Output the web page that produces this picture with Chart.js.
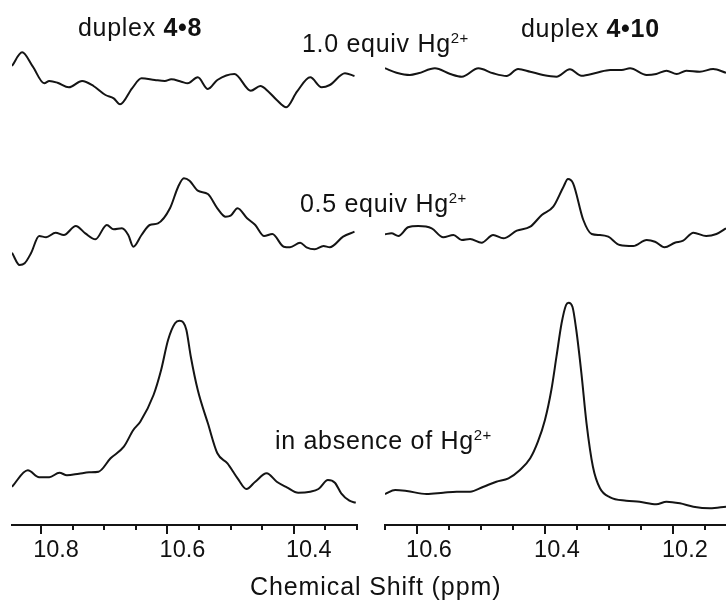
<!DOCTYPE html>
<html>
<head>
<meta charset="utf-8">
<script src="https://cdn.jsdelivr.net/npm/chart.js@4.4.1/dist/chart.umd.min.js"></script>
<style>
  html, body { margin: 0; padding: 0; background: #fff; }
  #wrap { position: relative; width: 726px; height: 603px; overflow: hidden; background: #fff; }
  canvas { position: absolute; top: 0; }
  #cL { left: 0; }
  #cR { left: 363px; }
  .lbl { position: absolute; font-family: "Liberation Sans", Arial, sans-serif; font-size: 25px;
         line-height: 26px; color: #111; white-space: nowrap; letter-spacing: 0.7px; pointer-events: none; }
  .lbl b { font-weight: bold; }
  .sup { position: relative; top: -9px; font-size: 15px; letter-spacing: 0.3px; }
</style>
</head>
<body>
<div id="wrap">
  <canvas id="cL" width="363" height="603"></canvas>
  <canvas id="cR" width="363" height="603"></canvas>
  <div class="lbl" style="left:78px; top:14px;">duplex <b>4•8</b></div>
  <div class="lbl" style="left:521px; top:15px;">duplex <b>4•10</b></div>
  <div class="lbl" style="left:302px; top:30px;">1.0 equiv Hg<span class="sup">2+</span></div>
  <div class="lbl" style="left:300px; top:190px;">0.5 equiv Hg<span class="sup">2+</span></div>
  <div class="lbl" style="left:275px; top:427px;">in absence of Hg<span class="sup">2+</span></div>
  <div class="lbl" style="left:250px; top:573px; letter-spacing:0.9px;">Chemical Shift (ppm)</div>
</div>
<script>
// ---------------- data (chemical shift in ppm, intensity in arbitrary units) ----------------
// duplex 4•8
const ppm48_eq10 = [10.846,10.830,10.813,10.795,10.787,10.774,10.756,10.735,10.717,10.698,10.685,10.675,10.656,10.641,10.620,10.604,10.594,10.578,10.568,10.552,10.536,10.521,10.494,10.468,10.453,10.440,10.427,10.412,10.395,10.374,10.356,10.343,10.319,10.304];
const int48_eq10 = [74,87.7,73.3,56.7,59,57.3,52.7,59,54,45,41.7,35.7,51.7,61.7,60,59,60.7,58.3,56.7,62.7,51,60,66,49.3,54,48.3,40,32.7,48.3,62.7,52.7,55,66.7,64];

const ppm48_eq05 = [10.846,10.834,10.826,10.816,10.803,10.792,10.777,10.764,10.745,10.730,10.714,10.696,10.685,10.672,10.662,10.654,10.641,10.628,10.615,10.596,10.583,10.574,10.565,10.552,10.536,10.521,10.508,10.500,10.489,10.474,10.461,10.447,10.434,10.416,10.406,10.390,10.380,10.367,10.353,10.343,10.322,10.304];
const int48_eq05 = [37.3,25,26.7,36.7,54,52.7,57.3,55,64,56.7,50.7,65,60.7,61.7,55,43.3,55,65,66.7,81.7,103.3,111.7,109.3,99.3,96,81.7,73.3,74.3,81.7,71.7,65,54,56,43.3,42.7,47.3,42.7,40.7,44,42.7,53.3,58.3];

const ppm48_eq00 = [10.846,10.821,10.803,10.787,10.771,10.759,10.740,10.724,10.709,10.690,10.669,10.654,10.643,10.622,10.610,10.599,10.588,10.581,10.575,10.570,10.563,10.552,10.536,10.521,10.505,10.489,10.475,10.461,10.443,10.427,10.411,10.393,10.374,10.361,10.346,10.335,10.325,10.312,10.302];
const int48_eq00 = [38.3,54.7,47.7,47.7,52.3,49.7,51.3,52.7,53.3,66.7,78.3,95,103.3,130,155,185,201.7,204.3,202.7,195,168.3,135,101.7,71.7,61.7,46.7,36,43.3,51.7,43.3,37.7,32.3,33.3,36,45,42.3,31.7,24.3,22.3];

// duplex 4•10
const ppm410_eq10 = [10.650,10.632,10.611,10.598,10.572,10.548,10.530,10.504,10.481,10.460,10.442,10.423,10.403,10.382,10.361,10.343,10.319,10.298,10.280,10.267,10.241,10.226,10.210,10.194,10.179,10.158,10.137,10.117];
const int410_eq10 = [71.7,67.3,65,66.7,71.7,66,63.3,71.7,66.7,64,71,68.3,65,63.3,70.7,64.3,67.3,70,70,71.7,65,66,69.3,66,69.3,68.3,71,67.3];

const ppm410_eq05 = [10.650,10.640,10.629,10.614,10.598,10.577,10.559,10.543,10.530,10.517,10.499,10.481,10.465,10.444,10.423,10.405,10.387,10.371,10.364,10.356,10.340,10.327,10.314,10.301,10.283,10.262,10.241,10.228,10.213,10.197,10.184,10.168,10.148,10.132,10.117];
const int410_eq05 = [55.7,56.7,54,62.7,64,61.7,52.7,55,50,51,47.3,55,51.7,59.3,63.3,75,83.3,103.3,111,106.7,70,56,55,53.3,45,44,50,48.3,42.7,47.3,49.3,57.3,54,56,61.7];

const ppm410_eq00 = [10.650,10.634,10.616,10.585,10.559,10.538,10.517,10.496,10.476,10.457,10.439,10.423,10.411,10.400,10.390,10.382,10.374,10.367,10.363,10.357,10.351,10.343,10.335,10.325,10.314,10.298,10.273,10.252,10.226,10.210,10.189,10.168,10.142,10.117];
const int410_eq00 = [31,35,34,31,32.3,33.3,33.3,38.3,43.3,46.7,55,66.7,83.3,105,135,168.3,201.7,220,222.3,218.3,195,151.7,101.7,58.3,36.7,27.7,24.3,23.3,20.7,23.3,21.7,18.3,16.7,18.3];

// axis ranges (ppm) and intensity ranges (a.u.) for the three stacked traces
const rangeLeft  = [10.30, 10.846];
const rangeRight = [10.117, 10.65];
const intRanges  = [100, 150, 235];   // top (1.0 equiv), middle (0.5 equiv), bottom (no Hg2+)
const tickStep = 0.05, majorStep = 0.2;

// ---------------- drawing ----------------
const INK = '#141414';
const toXY = (xs, ys) => xs.map((x, i) => ({x: x, y: ys[i]}));
const isMult = (v, s) => Math.abs(v / s - Math.round(v / s)) < 1e-6;

const majorTicks = {
  id: 'majorTicks',
  afterDraw(chart) {
    const s = chart.scales.x, ctx = chart.ctx;
    ctx.save();
    ctx.strokeStyle = INK; ctx.lineWidth = 2;
    s.ticks.forEach(t => {
      if (isMult(t.value, majorStep)) {
        const px = Math.round(s.getPixelForValue(t.value));
        ctx.beginPath(); ctx.moveTo(px, s.top); ctx.lineTo(px, s.top + 9); ctx.stroke();
      }
    });
    ctx.restore();
  }
};

function ds(data, axis) {
  return { data: data, yAxisID: axis, borderColor: INK, borderWidth: 2, pointRadius: 0,
           fill: false, cubicInterpolationMode: 'monotone' };
}

function makeChart(id, range, series, pad, lblOff) {
  new Chart(document.getElementById(id), {
    type: 'line',
    data: { datasets: [ds(series[0], 'y1'), ds(series[1], 'y2'), ds(series[2], 'y3')] },
    options: {
      responsive: false, animation: false, devicePixelRatio: 1,
      layout: { autoPadding: false, padding: pad },
      plugins: { legend: { display: false }, tooltip: { enabled: false } },
      scales: {
        x: {
          type: 'linear', reverse: true, min: range[0], max: range[1], position: 'bottom',
          afterBuildTicks: s => { s.ticks = s.ticks.filter(t => isMult(t.value, tickStep)); },
          afterFit: s => { s.height = 60; },
          border: { display: true, color: INK, width: 2 },
          grid: { display: true, drawOnChartArea: false, drawTicks: true, tickLength: 5, color: INK, lineWidth: 2 },
          ticks: {
            stepSize: tickStep, includeBounds: false, autoSkip: false, maxRotation: 0, padding: 6, labelOffset: lblOff,
            color: '#111', font: { family: '"Liberation Sans", Arial, sans-serif', size: 23.5 },
            callback: v => isMult(v, majorStep) ? v.toFixed(1) : ''
          }
        },
        y1: { display: false, position: 'right', stack: 'spec', stackWeight: intRanges[0], min: 0, max: intRanges[0] },
        y2: { display: false, position: 'right', stack: 'spec', stackWeight: intRanges[1], min: 0, max: intRanges[1] },
        y3: { display: false, position: 'right', stack: 'spec', stackWeight: intRanges[2], min: 0, max: intRanges[2] }
      }
    },
    plugins: [majorTicks]
  });
}

makeChart('cL', rangeLeft,
  [toXY(ppm48_eq10, int48_eq10), toXY(ppm48_eq05, int48_eq05), toXY(ppm48_eq00, int48_eq00)],
  { left: 12, right: 4, top: 40, bottom: 18 }, 15);
makeChart('cR', rangeRight,
  [toXY(ppm410_eq10, int410_eq10), toXY(ppm410_eq05, int410_eq05), toXY(ppm410_eq00, int410_eq00)],
  { left: 22, right: 0, top: 40, bottom: 18 }, 12);
</script>
</body>
</html>
